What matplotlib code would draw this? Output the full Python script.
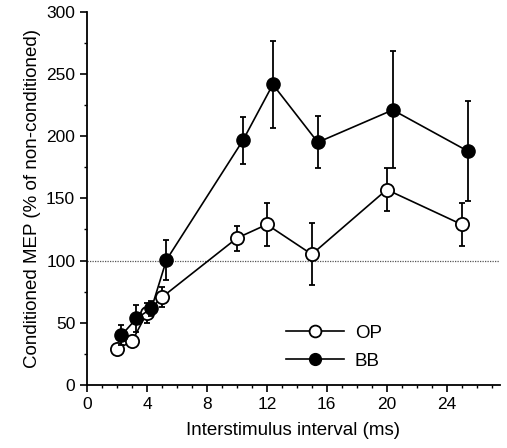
import matplotlib
matplotlib.use("Agg")
import matplotlib.pyplot as plt
from matplotlib.ticker import MultipleLocator
from matplotlib.lines import Line2D

plt.rcParams['font.family'] = ['Liberation Sans', 'DejaVu Sans']

op_x = [2.0, 3.0, 4.0, 5.0, 10.0, 12.0, 15.0, 20.0, 25.0]
op_y = [29, 35, 58, 70.5, 118, 129, 105, 157, 129]
op_err = [3, 4, 8, 8, 10, 17, 25, 17, 17]

bb_x = [2.3, 3.3, 4.3, 5.3, 10.4, 12.4, 15.4, 20.4, 25.4]
bb_y = [40, 53.5, 61.5, 100.5, 196.5, 241.5, 195, 221, 188]
bb_err = [8, 11, 6, 16, 19, 35, 21, 47, 40]

fig = plt.figure(figsize=(5.07, 4.48), dpi=100)
ax = fig.add_axes([0.1716, 0.1406, 0.8144, 0.8334])

ax.axhline(100, color='#555555', lw=0.9, ls=(0, (1, 1)), zorder=1)

ax.errorbar(op_x, op_y, yerr=op_err, fmt='-o', color='black', mfc='white',
            mec='black', mew=1.3, ms=9.5, lw=1.2, elinewidth=1.3, capsize=2.5,
            capthick=1.3, zorder=3)
ax.errorbar(bb_x, bb_y, yerr=bb_err, fmt='-o', color='black', mfc='black',
            mec='black', ms=9.5, lw=1.2, elinewidth=1.3, capsize=2.5,
            capthick=1.3, zorder=4)

ax.set_xlim(0, 27.55)
ax.set_ylim(0, 300)
ax.set_xticks([0, 4, 8, 12, 16, 20, 24])
ax.set_yticks([0, 50, 100, 150, 200, 250, 300])
ax.xaxis.set_minor_locator(MultipleLocator(1))
ax.yaxis.set_minor_locator(MultipleLocator(25))
ax.tick_params(which='major', direction='out', length=5, width=1.2, labelsize=12.5)
ax.tick_params(which='minor', direction='out', length=2.5, width=1)
for s in ['top', 'right']:
    ax.spines[s].set_visible(False)
for s in ['left', 'bottom']:
    ax.spines[s].set_linewidth(1.3)

ax.set_xlabel('Interstimulus interval (ms)', fontsize=13.5, labelpad=7)
ax.set_ylabel('Conditioned MEP (% of non-conditioned)', fontsize=13.5, labelpad=4)

handles = [
    Line2D([], [], color='black', lw=1.2, marker='o', mfc='white', mec='black', mew=1.3, ms=8.5),
    Line2D([], [], color='black', lw=1.2, marker='o', mfc='black', mec='black', ms=8.5),
]
ax.legend(handles, ['OP', 'BB'], loc='lower left', bbox_to_anchor=(0.44, -0.005),
          frameon=False, fontsize=13.5, handlelength=3.1, handletextpad=0.6,
          labelspacing=0.6)

fig.savefig('out.png', dpi=100)
